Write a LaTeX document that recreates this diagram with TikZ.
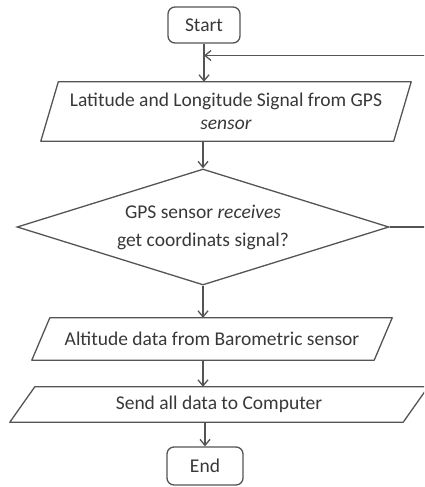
\documentclass[tikz,border=0pt]{standalone}
\usepackage{fontspec}
\setmainfont{Carlito}
\usetikzlibrary{arrows.meta, shapes.geometric, positioning}
\definecolor{flowgray}{rgb}{0.33, 0.33, 0.33}
\definecolor{flowtext}{rgb}{0.22, 0.22, 0.22}

\tikzset{
    terminal/.style={draw=flowgray, line width=1.3pt, rounded corners=7pt, text=flowtext,
        font=\fontsize{19.5}{22}\selectfont, inner sep=0pt},
    io/.style={text=flowtext, align=center, inner sep=0pt, font=\fontsize{19.5}{23.5}\selectfont},
    ioline/.style={draw=flowgray, line width=1.3pt, line join=round},
    decision/.style={draw=flowgray, line width=1.3pt, diamond, aspect=3.2, text=flowtext,
        align=center, inner sep=0pt, font=\fontsize{19.5}{28}\selectfont},
    flow/.style={draw=flowgray, line width=1.3pt, -{Straight Barb[length=6pt, width=10pt]}}
}

\begin{document}
\begin{tikzpicture}[x=1pt, y=-1pt]
    \useasboundingbox (0, 0) rectangle (424, 487);
    \clip (0, 0) rectangle (424, 487);

    \node[terminal, minimum width=72pt, minimum height=36pt] (start) at (204, 25) {Start};
    \node[io, minimum width=370pt, minimum height=59pt] (gps) at (226, 111.5)
          {Latitude and Longitude Signal from GPS\\\textit{sensor}};
    \node[decision, minimum width=372pt, minimum height=116pt] (check) at (203, 227)
          {GPS sensor \textit{receives}\\get coordinats signal?};
    \node[io, minimum width=360pt, minimum height=42pt] (baro) at (212, 339)
          {Altitude data from Barometric sensor};
    \node[io, minimum width=418pt, minimum height=35pt] (send) at (219, 404.5)
          {Send all data to Computer};
    \node[terminal, minimum width=76pt, minimum height=38pt] (end) at (205, 466) {End};

    % slanted input/output boxes
    \draw[ioline] ([xshift=17.5pt]gps.north west) -- (gps.north east)
        -- ([xshift=-17.5pt]gps.south east) -- (gps.south west) -- cycle;
    \draw[ioline] ([xshift=18pt]baro.north west) -- (baro.north east)
        -- ([xshift=-18pt]baro.south east) -- (baro.south west) -- cycle;
    \draw[ioline] ([xshift=25pt]send.north west) -- (send.north east)
        -- ([xshift=-25pt]send.south east) -- (send.south west) -- cycle;

    \coordinate (join) at (204, 55.5);
    \coordinate (back) at (440, 0);

    \draw[flow] (start.south) -- (start.south |- gps.north);
    \draw[flow] (check.north |- gps.south) -- (check.north);
    \draw[flow] (check.south) -- (check.south |- baro.north);
    \draw[flow] (check.south |- baro.south) -- (check.south |- send.north);
    \draw[flow] (end.north |- send.south) -- (end.north);
    \draw[flow] (check.east) -- (check.east -| back) -- (back |- join) -- (join);
\end{tikzpicture}
\end{document}
